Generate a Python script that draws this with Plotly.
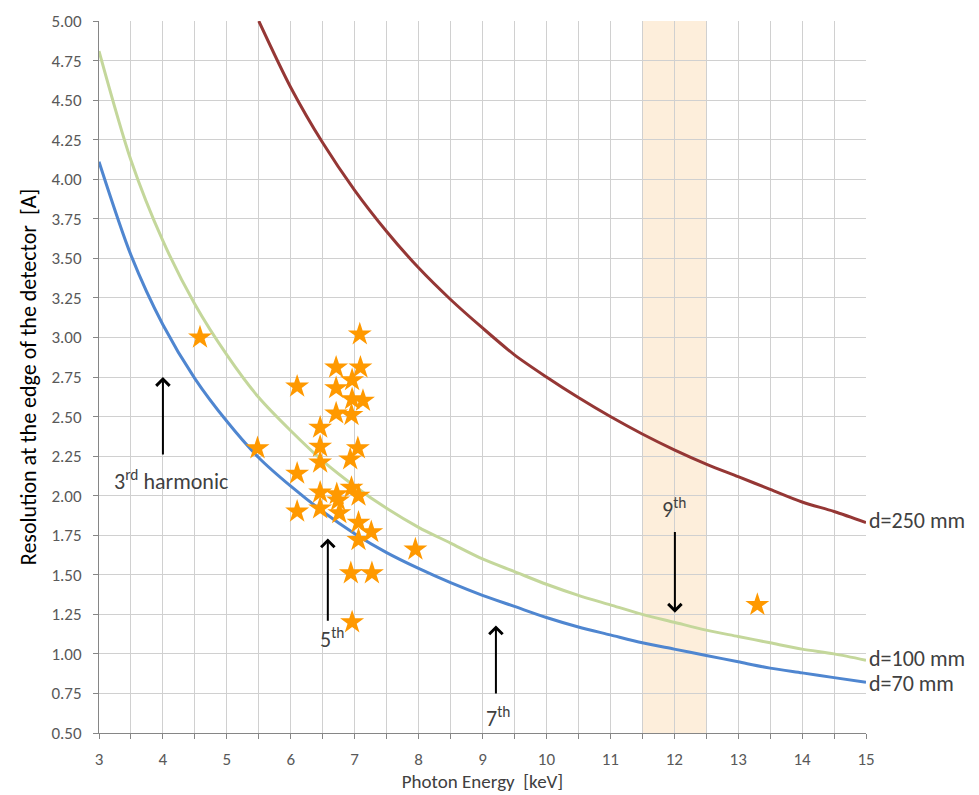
import plotly.graph_objects as go

energy = [3, 3.5, 4, 4.5, 5, 5.5, 6, 6.5, 7, 7.5, 8, 8.5, 9, 9.5, 10, 10.5, 11, 11.5, 12, 12.5, 13, 13.5, 14, 14.5, 15]
d70 = [4.11, 3.52, 3.08, 2.74, 2.47, 2.24, 2.06, 1.90, 1.76, 1.64, 1.54, 1.45, 1.37, 1.30, 1.23, 1.17, 1.12, 1.07, 1.03, 0.99, 0.95, 0.91, 0.88, 0.85, 0.82]
d100 = [4.81, 4.12, 3.61, 3.21, 2.89, 2.62, 2.41, 2.22, 2.06, 1.92, 1.80, 1.70, 1.60, 1.52, 1.44, 1.37, 1.31, 1.25, 1.20, 1.15, 1.11, 1.07, 1.03, 1.00, 0.96]
energy250 = [5.5, 6, 6.5, 7, 7.5, 8, 8.5, 9, 9.5, 10, 10.5, 11, 11.5, 12, 12.5, 13, 13.5, 14, 14.5, 15]
d250 = [5.00, 4.58, 4.23, 3.93, 3.67, 3.44, 3.24, 3.06, 2.89, 2.75, 2.62, 2.50, 2.39, 2.29, 2.20, 2.12, 2.04, 1.96, 1.90, 1.83]

star_x = [4.58, 5.48, 6.10, 6.10, 6.10, 7.08, 6.71, 7.09, 6.96, 6.71, 6.96, 7.13, 6.71, 6.95, 6.46, 6.46, 7.05,
          6.93, 6.46, 6.46, 6.72, 6.95, 7.06, 6.74, 6.46, 6.76, 7.06, 7.26, 7.06, 7.95, 6.94, 7.27, 6.96, 13.30]
star_y = [3.00, 2.30, 2.69, 2.14, 1.90, 3.02, 2.81, 2.81, 2.73, 2.68, 2.61, 2.60, 2.52, 2.51, 2.43, 2.31, 2.30,
          2.23, 2.21, 2.02, 2.01, 2.05, 2.00, 1.97, 1.92, 1.89, 1.83, 1.77, 1.72, 1.66, 1.51, 1.51, 1.20, 1.31]

curve_labels = ["d=250 mm", "d=100 mm", "d=70 mm"]
label_y = [1.84, 0.97, 0.81]

band = [11.5, 12.5]

font_family = "Carlito, Lato, 'Open Sans', sans-serif"

fig = go.Figure()

fig.add_vrect(x0=band[0], x1=band[1], fillcolor="#FDEEDB", line_width=0, layer="below")

fig.add_trace(go.Scatter(x=energy, y=d70, mode="lines", line=dict(color="#4F86D0", width=3, shape="spline", smoothing=0.8), showlegend=False))
fig.add_trace(go.Scatter(x=energy, y=d100, mode="lines", line=dict(color="#C4D79B", width=3, shape="spline", smoothing=0.8), showlegend=False))
fig.add_trace(go.Scatter(x=energy250, y=d250, mode="lines", line=dict(color="#953735", width=3, shape="spline", smoothing=0.8), showlegend=False))
fig.add_trace(go.Scatter(x=star_x, y=star_y, mode="markers",
                         marker=dict(symbol="star", size=18, color="#FF9900", line=dict(width=0)), showlegend=False))

# curve labels
for txt, yv in zip(curve_labels, label_y):
    fig.add_annotation(x=15, y=yv, text=txt, showarrow=False, xanchor="left", xshift=1,
                       font=dict(size=22, color="#404040", family=font_family))

# harmonic arrows
arrows = [
    dict(x=4.0, y0=2.25, y1=2.75),
    dict(x=6.58, y0=1.20, y1=1.73),
    dict(x=9.21, y0=0.74, y1=1.18),
    dict(x=12.01, y0=1.78, y1=1.26),
]
for a in arrows:
    fig.add_annotation(x=a["x"], y=a["y1"], ax=a["x"], ay=a["y0"], axref="x", ayref="y", xref="x", yref="y",
                       showarrow=True, arrowhead=4, arrowsize=1.3, arrowwidth=2, arrowcolor="black", text="")

labels = [
    dict(x=3.2, y=2.10, t="3<sup>rd</sup> harmonic", anchor="left"),
    dict(x=6.65, y=1.10, t="5<sup>th</sup>", anchor="center"),
    dict(x=9.25, y=0.60, t="7<sup>th</sup>", anchor="center"),
    dict(x=12.0, y=1.92, t="9<sup>th</sup>", anchor="center"),
]
for l in labels:
    fig.add_annotation(x=l["x"], y=l["y"], text=l["t"], showarrow=False, xanchor=l["anchor"],
                       font=dict(size=22, color="#404040", family=font_family))

fig.update_layout(
    width=979, height=795,
    margin=dict(l=91, r=121, t=13, b=70),
    plot_bgcolor="white", paper_bgcolor="white",
    font=dict(family=font_family, color="#595959"),
    xaxis=dict(range=[3, 15], dtick=1, tick0=3, showgrid=True, gridcolor="#D0D0D0", gridwidth=1,
               showline=True, linecolor="#868686", linewidth=1, ticks="outside", ticklen=5, tickcolor="#868686",
               tickfont=dict(size=17, color="#595959"), ticklabelstandoff=6, automargin=False,
               minor=dict(dtick=0.5, showgrid=True, gridcolor="#D0D0D0", ticks="outside", ticklen=5, tickcolor="#868686"),
               title=dict(text="Photon Energy  [keV]", font=dict(size=19, color="#404040"), standoff=5),
               zeroline=False),
    yaxis=dict(range=[0.5, 5.0], dtick=0.25, tick0=0.5, tickformat=".2f", showgrid=True, gridcolor="#D0D0D0",
               showline=True, linecolor="#868686", linewidth=1, ticks="outside", ticklen=5, tickcolor="#868686",
               tickfont=dict(size=17, color="#595959"), ticklabelstandoff=8, automargin=False,
               title=dict(text="Resolution at the edge of the detector  [A]", font=dict(size=22, color="black"), standoff=8),
               zeroline=False),
)

fig.write_html("out.html")
